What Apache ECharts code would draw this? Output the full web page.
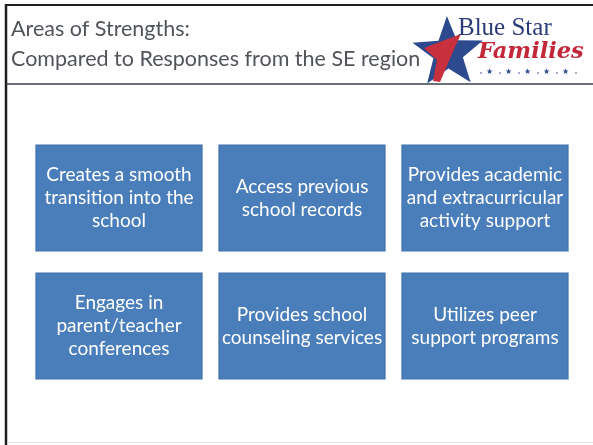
<!DOCTYPE html>
<html>
<head>
<meta charset="utf-8">
<script src="https://cdn.jsdelivr.net/npm/echarts@6/dist/echarts.min.js"></script>
<style>
  html, body { margin: 0; padding: 0; background: #fff; }
  #main { width: 593px; height: 445px; }
</style>
</head>
<body>
<div id="main"></div>
<script>
// slide data
var titleLines = ['Areas of Strengths:', 'Compared to Responses from the SE region'];
var colNames = ['c1', 'c2', 'c3'];
var rowNames = ['r1', 'r2'];
var boxLabels = [
  'Creates a smooth\ntransition into the\nschool',
  'Access previous\nschool records',
  'Provides academic\nand extracurricular\nactivity support',
  'Engages in\nparent/teacher\nconferences',
  'Provides school\ncounseling services',
  'Utilizes peer\nsupport programs'
];
var boxCol = [0, 1, 2, 0, 1, 2];
var boxRow = [0, 0, 0, 1, 1, 1];

(function () {
  var myChart = echarts.init(document.getElementById('main'));

  var points = boxLabels.map(function (t, i) {
    return { value: [colNames[boxCol[i]], rowNames[boxRow[i]]], name: t };
  });

  // star of the logo
  function starPoints(cx, cy, R, r, rot) {
    var pts = [];
    for (var k = 0; k < 10; k++) {
      var a = -Math.PI / 2 + rot + k * Math.PI / 5;
      var rr = k % 2 === 0 ? R : r;
      pts.push([cx + rr * Math.cos(a), cy + rr * Math.sin(a)]);
    }
    return pts;
  }

  var graphics = [
    // frame
    { type: 'line', shape: { x1: 5, y1: 5, x2: 593, y2: 5 }, style: { stroke: '#1e1e1e', lineWidth: 2 } },
    { type: 'line', shape: { x1: 6, y1: 4, x2: 6, y2: 445 }, style: { stroke: '#1e1e1e', lineWidth: 2.5 } },
    { type: 'line', shape: { x1: 6, y1: 84, x2: 593, y2: 84 }, style: { stroke: '#3a3f48', lineWidth: 1.5 } },
    { type: 'line', shape: { x1: 7, y1: 442.5, x2: 593, y2: 442.5 }, style: { stroke: '#e4e6e8', lineWidth: 1 } },
    // title
    { type: 'text', left: 11, top: 18, style: { text: titleLines[0], fill: '#505459', font: '21.5px Lato' } },
    { type: 'text', left: 11, top: 48, style: { text: titleLines[1], fill: '#505459', font: '21.5px Lato' } },
    // logo
    { type: 'polygon', shape: { points: starPoints(448, 53, 37, 15.5, -0.03) }, style: { fill: '#2d4a8e' } },
    { type: 'polygon', shape: { points: [[424, 48], [445, 40], [461, 34], [455, 47], [440, 82], [433, 81], [437, 60]] }, style: { fill: '#c9303d' } },
    { type: 'text', left: 458, top: 16, style: { text: 'Blue Star', fill: '#2b3a78', font: '25px "Liberation Serif"' } },
    { type: 'text', left: 478, top: 41, style: { text: 'Families', fill: '#c2283a', font: 'italic bold 22.5px "DejaVu Serif"' } }
  ];
  // row of little stars under the logo
  for (var s = 0; s < 5; s++) {
    graphics.push({ type: 'text', left: 486 + s * 19, top: 68, style: { text: '★', fill: '#2d4a8e', font: '8px "DejaVu Sans"' } });
  }
  for (var d = 0; d < 6; d++) {
    graphics.push({ type: 'circle', shape: { cx: 481 + d * 19, cy: 73, r: 0.8 }, style: { fill: '#2d4a8e' } });
  }

  var option = {
    backgroundColor: '#ffffff',
    animation: false,
    grid: { left: 27.5, right: 16.5, top: 134, bottom: 55 },
    xAxis: { type: 'category', data: colNames, show: false },
    yAxis: { type: 'category', data: rowNames, inverse: true, show: false },
    graphic: graphics,
    series: [
      {
        type: 'scatter',
        symbol: 'rect',
        symbolSize: [166, 106],
        itemStyle: { color: '#4a7ebb', borderColor: '#4273ad', borderWidth: 1, opacity: 1 },
        label: {
          show: true,
          position: 'inside',
          formatter: '{b}',
          color: '#ffffff',
          fontFamily: 'Lato',
          fontSize: 19,
          lineHeight: 23,
          align: 'center'
        },
        data: points
      }
    ]
  };
  myChart.setOption(option);
})();
</script>
</body>
</html>
